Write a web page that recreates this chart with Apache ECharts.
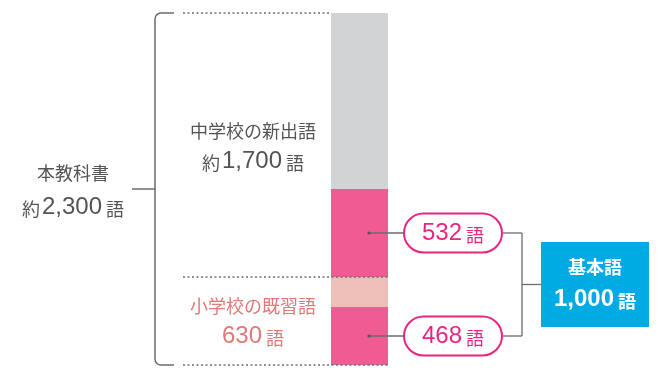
<!DOCTYPE html>
<html><head><meta charset="utf-8">
<script src="https://cdn.jsdelivr.net/npm/echarts@6/dist/echarts.min.js"></script>
<style>html,body{margin:0;padding:0;background:#fff}#c{width:672px;height:384px}</style>
</head><body><div id="c"></div>
<script>
// ---- data ----
const categories = ['本教科書'];
const segmentNames = ['小学校の既習語（基本語）', '小学校の既習語（その他）', '中学校の新出語（基本語）', '中学校の新出語（その他）'];
// segment heights as drawn in the (schematic) reference bar, on a 0–2,300 scale
const segmentDrawn = [379, 196, 575, 1150];
const totalLabel = ['本教科書', '約', '2,300', '語'];
const juniorLabel = ['中学校の新出語', '約', '1,700', '語'];
const elementaryLabel = ['小学校の既習語', '', '630', '語'];
const basicJunior = '532';
const basicElementary = '468';
const basicLabel = ['基本語', '1,000', '語'];

// ---- chart ----
const chart = echarts.init(document.getElementById('c'), null, {renderer: 'canvas'});
const segColors = ['#ef5b92', '#edbfb8', '#ef5b92', '#d2d3d5'];
const total = segmentDrawn.reduce((a, b) => a + b, 0);
chart.setOption({
  animation: false,
  grid: {left: 331, width: 57, top: 13, bottom: 19},
  xAxis: {type: 'category', data: categories, show: false},
  yAxis: {type: 'value', min: 0, max: total, show: false},
  series: segmentDrawn.map((v, i) => ({
    type: 'bar', stack: 's', name: segmentNames[i], data: [v], barWidth: '100%',
    itemStyle: {color: segColors[i]}, silent: true
  }))
});

const F = "'Liberation Sans','Noto Sans CJK JP',sans-serif";
const CJK = "'Noto Sans CJK JP',sans-serif";
const yPx = v => chart.convertToPixel({yAxisIndex: 0}, v);
let acc = [0];
segmentDrawn.forEach(v => acc.push(acc[acc.length - 1] + v));
const yB = acc.map(yPx); // boundaries in px
const barL = 331, barR = 388;
const line = (x1, y1, x2, y2, extra) => ({type: 'line', shape: {x1, y1, x2, y2}, style: Object.assign({stroke: '#6b6b6b', lineWidth: 1.3}, extra || {}), z: 10});
const txt = (x, y, text, rich) => ({type: 'text', x, y, z: 20, style: {text, rich, align: 'center', verticalAlign: 'middle', textAlign: 'center', textVerticalAlign: 'middle'}});
const dotted = {lineDash: [2, 2.5], lineWidth: 1.5, stroke: '#6e6e6e'};

const grey = '#545454', salmon = '#de7a77', pink = '#e8257f';
const num = (size, color, bold) => ({fontSize: size, fontFamily: F, fill: color, fontWeight: bold ? 'bold' : 'normal', verticalAlign: 'bottom'});
const unit = (size, color, bold) => ({fontSize: size, fontFamily: CJK, fill: color, fontWeight: bold ? 'bold' : 'normal', padding: [0, 0, 1, 4], verticalAlign: 'bottom'});
const head = (size, color, bold) => ({fontSize: size, fontFamily: CJK, fill: color, fontWeight: bold ? 'bold' : 'normal'});
const pre = (size, color) => Object.assign(head(size, color), {verticalAlign: 'bottom', padding: [0, 2, 1, 0]});

const pinkTopMid = (yB[2] + yB[3]) / 2;
const pinkBotMid = (yB[0] + yB[1]) / 2;
const joinY = (pinkTopMid + pinkBotMid) / 2;

const g = [];
// dotted guides
g.push(line(183, yB[4], barL, yB[4], dotted));
g.push(line(183, yB[2], barR, yB[2], dotted));
g.push(line(183, yB[0], barR, yB[0], dotted));
// bracket
const br = {lineWidth: 1.5};
const yTop = yB[4], yBot = yB[0], rr = 6;
g.push(line(155 + rr, yTop, 174, yTop, br));
g.push(line(155, yTop + rr, 155, yBot - rr, br));
g.push(line(155 + rr, yBot, 174, yBot, br));
g.push({type: 'arc', z: 10, shape: {cx: 155 + rr, cy: yTop + rr, r: rr, startAngle: Math.PI, endAngle: Math.PI * 1.5, clockwise: true}, style: {fill: 'none', stroke: '#6b6b6b', lineWidth: 1.5}});
g.push({type: 'arc', z: 10, shape: {cx: 155 + rr, cy: yBot - rr, r: rr, startAngle: Math.PI * 0.5, endAngle: Math.PI, clockwise: true}, style: {fill: 'none', stroke: '#6b6b6b', lineWidth: 1.5}});
g.push(line(132, (yBot + yTop) / 2, 155, (yBot + yTop) / 2, br));
// left text
g.push(txt(73, 173, '{h|' + totalLabel[0] + '}', {h: head(18, grey)}));
g.push(txt(73, 207, '{p|' + totalLabel[1] + '}{n|' + totalLabel[2] + '}{u|' + totalLabel[3] + '}', {p: pre(18, grey), n: num(24, grey), u: unit(18, grey)}));
// junior text
g.push(txt(253, 131, '{h|' + juniorLabel[0] + '}', {h: head(18, grey)}));
g.push(txt(253, 161, '{p|' + juniorLabel[1] + '}{n|' + juniorLabel[2] + '}{u|' + juniorLabel[3] + '}', {p: pre(18, grey), n: num(24, grey), u: unit(18, grey)}));
// elementary text
g.push(txt(253, 306, '{h|' + elementaryLabel[0] + '}', {h: head(18, salmon)}));
g.push(txt(253, 336, '{n|' + elementaryLabel[2] + '}{u|' + elementaryLabel[3] + '}', {n: num(24, salmon), u: unit(18, salmon)}));
// pills
[[pinkTopMid, basicJunior], [pinkBotMid, basicElementary]].forEach(([cy, v]) => {
  g.push({type: 'circle', z: 11, shape: {cx: 369, cy, r: 1.6}, style: {fill: '#555'}});
  g.push(line(369, cy, 404, cy));
  g.push(line(502, cy, 522, cy));
  g.push({type: 'rect', z: 12, shape: {x: 404, y: cy - 19.5, width: 98, height: 39, r: 19.5}, style: {fill: '#fff', stroke: pink, lineWidth: 2}});
  g.push(txt(453, cy, '{n|' + v + '}{u|語}', {n: num(24, pink), u: unit(18, pink)}));
});
g.push(line(522, pinkTopMid, 522, pinkBotMid));
g.push(line(522, joinY, 541, joinY));
// blue box
g.push({type: 'rect', z: 12, shape: {x: 541, y: joinY - 42.5, width: 108, height: 85}, style: {fill: '#00aae3'}});
g.push(txt(595, joinY - 17, '{h|' + basicLabel[0] + '}', {h: head(18, '#fff', true)}));
g.push(txt(595, joinY + 15, '{n|' + basicLabel[1] + '}{u|' + basicLabel[2] + '}', {n: num(24, '#fff', true), u: unit(18, '#fff', true)}));

chart.setOption({graphic: {elements: g}});
</script></body></html>
